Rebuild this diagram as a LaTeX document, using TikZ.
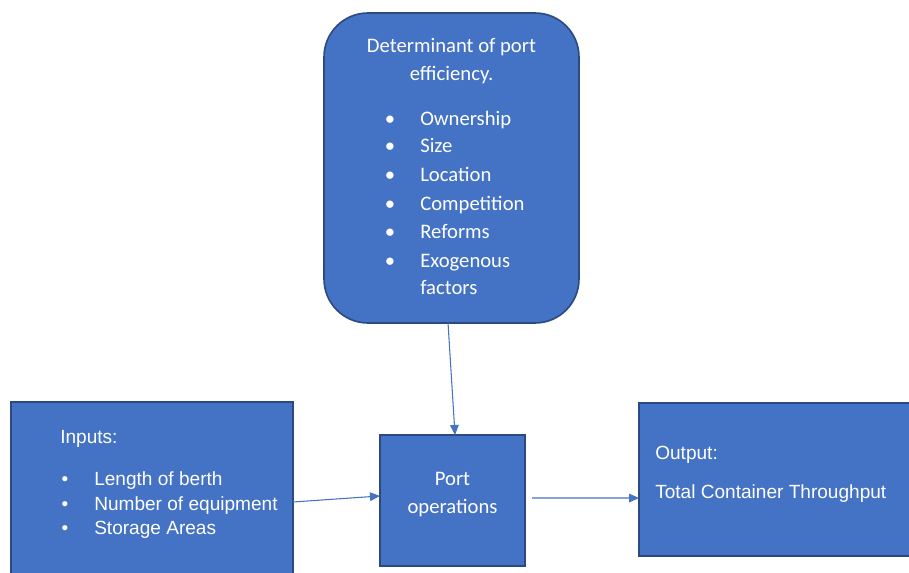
\documentclass[tikz,border=0pt]{standalone}
\usepackage{fontspec}
\newfontfamily\calfont{Carlito}
\newfontfamily\arifont{Liberation Sans}
\usetikzlibrary{arrows.meta}
\definecolor{boxfill}{HTML}{4472C4}
\definecolor{boxline}{HTML}{2A4A80}
\definecolor{arrowcol}{HTML}{4472C4}
\tikzset{
  box/.style={draw=boxline, fill=boxfill, line width=1.2pt, inner sep=0pt, outer sep=0pt},
  caltext/.style={text=white, font=\calfont\fontsize{15.5}{19}\selectfont, inner sep=0pt, anchor=base},
  aritext/.style={text=white, font=\arifont\fontsize{14.3}{18}\selectfont, inner sep=0pt, anchor=base},
  calleft/.style={caltext, anchor=base west},
  arileft/.style={aritext, anchor=base west},
  arr/.style={draw=arrowcol, line width=0.8pt, -{Triangle[length=7.5pt,width=6.5pt]}}
}
\begin{document}
\begin{tikzpicture}[x=0.75pt,y=-0.75pt]
\useasboundingbox (0,0) rectangle (909,573);
\clip (0,0) rectangle (909,573);
% boxes
\node[box, rounded corners=33pt, minimum width=191.25pt, minimum height=232.5pt] (top) at (451.5,168) {};
\node[box, minimum width=211.5pt, minimum height=150pt] (inputs) at (152,502) {};
\node[box, minimum width=108.75pt, minimum height=98.25pt] (port) at (452.5,500.5) {};
\node[box, minimum width=210.75pt, minimum height=114.75pt] (output) at (779.5,479.5) {};
% top box text
\node[caltext] (t1) at (451.5,53) {Determinant of port};
\node[caltext] (t2) at (451.5,81) {efficiency.};
\node[caltext] (b1) at (390,126) {•};
\node[calleft] (i1) at (420,126) {Ownership};
\node[caltext] (b2) at (390,153) {•};
\node[calleft] (i2) at (420,153) {Size};
\node[caltext] (b3) at (390,182) {•};
\node[calleft] (i3) at (420,182) {Location};
\node[caltext] (b4) at (390,211) {•};
\node[calleft] (i4) at (420,211) {Competition};
\node[caltext] (b5) at (390,239) {•};
\node[calleft] (i5) at (420,239) {Reforms};
\node[caltext] (b6) at (390,268) {•};
\node[calleft] (i6) at (420,268) {Exogenous};
\node[calleft] (i7) at (420,295) {factors};
% inputs text
\node[arileft] (in0) at (60,443) {Inputs:};
\node[aritext] (ib1) at (65,485) {•};
\node[arileft] (in1) at (94,485) {Length of berth};
\node[aritext] (ib2) at (65,510) {•};
\node[arileft] (in2) at (94,510) {Number of equipment};
\node[aritext] (ib3) at (65,534) {•};
\node[arileft] (in3) at (94,534) {Storage Areas};
% port text
\node[caltext] (p1) at (452.5,485) {Port};
\node[caltext] (p2) at (452.5,513) {operations};
% output text
\node[arileft] (o1) at (655,459) {Output:};
\node[arileft] (o2) at (655,498) {Total Container Throughput};
% arrows
\draw[arr] ([xshift=-2.6pt]top.south) -- ([xshift=1.9pt]port.north);
\draw[arr] (inputs.east) -- ([yshift=3.4pt]port.west);
\draw[arr] ([xshift=5.25pt,yshift=1.9pt]port.east) -- ([yshift=-13.9pt]output.west);
\end{tikzpicture}
\end{document}
